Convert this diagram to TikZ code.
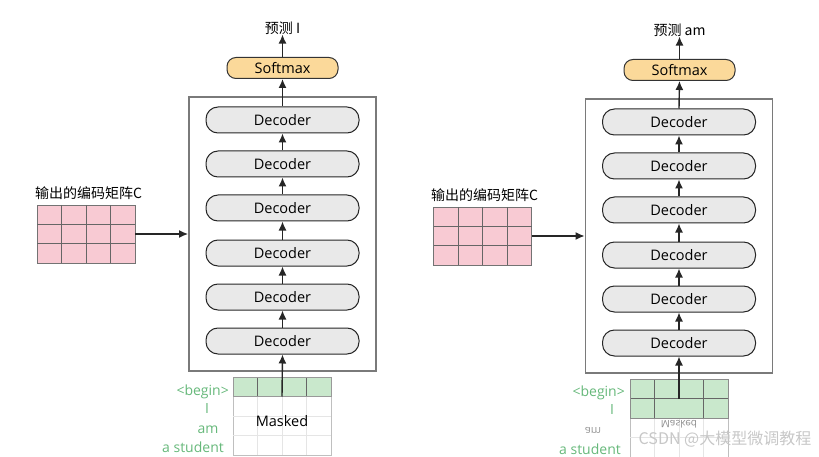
\documentclass[tikz,border=0pt]{standalone}
\usepackage{fontspec}
\setmainfont{Open Sans}
\newfontfamily\cjk{Noto Sans CJK SC}
\usetikzlibrary{arrows.meta}
\definecolor{decfill}{HTML}{E9E9E9}
\definecolor{softfill}{HTML}{FBD99A}
\definecolor{pinkc}{HTML}{F8CAD3}
\definecolor{greenc}{HTML}{C9E8CC}
\definecolor{greent}{HTML}{66B87A}
\definecolor{boxc}{HTML}{7A7A7A}
\begin{document}
\begin{tikzpicture}[x=1pt,y=-1pt,
  dec/.style={draw=black!85, line width=1pt, fill=decfill, rounded corners=12pt,
    minimum width=153pt, minimum height=26pt, inner sep=0pt, font=\fontsize{14.5}{15}\selectfont},
  soft/.style={draw=black!80, line width=1pt, fill=softfill, rounded corners=9pt,
    minimum width=111pt, minimum height=21pt, inner sep=0pt, font=\fontsize{14.5}{15}\selectfont},
  outer/.style={draw=boxc, line width=1.8pt, minimum width=187pt, minimum height=274pt, inner sep=0pt},
  matc/.style={draw=black!55, line width=0.8pt, fill=pinkc, minimum width=98pt, minimum height=58pt, inner sep=0pt},
  maskbox/.style={draw=black!25, line width=0.8pt, minimum width=98pt, minimum height=78pt, inner sep=0pt},
  arr/.style={-{Latex[length=9pt,width=8pt]}, line width=1.4pt, black!85},
  lab/.style={font=\cjk\fontsize{14}{15}\selectfont, inner sep=0pt},
  glab/.style={text=greent, font=\fontsize{14}{15}\selectfont, inner sep=0pt},
  gline/.style={black!60, line width=0.8pt},
  lline/.style={black!10, line width=0.6pt}]
\useasboundingbox (0,0) rectangle (819,457);

% ---------------- Left panel ----------------
\node[outer] (BL) at (282.5,234) {};
\node[soft] (SL) at (282.5,68) {Softmax};
\node[lab] (PL) at (282.5,28) {预测 I};
\foreach \k/\yy in {1/120,2/164,3/208,4/253,5/297,6/341}
  \node[dec] (DL\k) at (282.5,\yy) {Decoder};
\draw[arr] (SL.north) -- (PL.south);
\draw[arr] (DL1.north) -- (SL.south);
\foreach \a/\b in {2/1,3/2,4/3,5/4,6/5}
  \draw[arr] (DL\a.north) -- (DL\b.south);

% encoder matrix C
\node[lab, anchor=west] (CLt) at (35,193) {输出的编码矩阵C};
\node[matc] (CL) at (86,234) {};
\foreach \xx in {61.5,86,110.5} \draw[gline] (\xx,205) -- (\xx,263);
\foreach \yy in {224.3,243.7} \draw[gline] (37,\yy) -- (135,\yy);
\draw[arr] (CL.east) -- (BL.west |- CL.east);

% decoder input
\node[maskbox] (ML) at (282,416) {};
\fill[greenc] (233,377) rectangle (331,396.5);
\foreach \xx in {257.5,282,306.5} \draw[lline] (\xx,396.5) -- (\xx,455);
\foreach \yy in {416,435.5} \draw[lline] (233,\yy) -- (331,\yy);
\foreach \xx in {257.5,306.5} \draw[gline] (\xx,377) -- (\xx,396.5);
\draw[black!40, line width=0.7pt] (233,377) rectangle (331,396.5);
\node[font=\fontsize{14.5}{15}\selectfont, inner sep=1pt] (MTL) at (282,421) {Masked};
\coordinate (INL) at (282,396.5);
\draw[arr] (INL) -- (DL6.south);
\node[glab, anchor=east] (gl1) at (229,392) {<begin>};
\node[glab] (gl2) at (207,409) {I};
\node[glab] (gl3) at (208,430) {am};
\node[glab, anchor=east] (gl4) at (224,447) {a student};

% ---------------- Right panel ----------------
\node[outer] (BR) at (679,236) {};
\node[soft] (SR) at (679.5,70) {Softmax};
\node[lab] (PR) at (679.5,30) {预测 am};
\foreach \k/\yy in {1/122,2/166,3/210,4/255,5/299,6/343}
  \node[dec] (DR\k) at (679,\yy) {Decoder};
\draw[arr] (SR.north) -- (PR.south);
\draw[arr] (DR1.north) -- (SR.south);
\foreach \a/\b in {2/1,3/2,4/3,5/4,6/5}
  \draw[arr] (DR\a.north) -- (DR\b.south);

\node[lab, anchor=west] (CRt) at (431,195) {输出的编码矩阵C};
\node[matc] (CR) at (482.5,236) {};
\foreach \xx in {458,482.5,507} \draw[gline] (\xx,207) -- (\xx,265);
\foreach \yy in {226.3,245.7} \draw[gline] (433.5,\yy) -- (531.5,\yy);
\draw[arr] (CR.east) -- (BR.west |- CR.east);

\node[maskbox] (MR) at (679,418) {};
\fill[greenc] (630,379) rectangle (728,418);
\foreach \xx in {654.5,679,703.5} \draw[lline] (\xx,418) -- (\xx,457);
\draw[lline] (630,437.5) -- (728,437.5);
\foreach \xx in {654.5,703.5} \draw[gline] (\xx,379) -- (\xx,418);
\draw[gline] (630,398.5) -- (728,398.5);
\draw[black!45, line width=0.8pt] (630,379) rectangle (728,418);
\node[font=\fontsize{10}{11}\selectfont, text=black!45, yscale=-1, inner sep=0pt] (MTR) at (679,424) {Masked};
\coordinate (INR) at (679,398.5);
\draw[arr] (INR) -- (DR6.south);
\node[glab, anchor=east] (gr1) at (625,393) {<begin>};
\node[glab] (gr2) at (612,410) {I};
\node[font=\fontsize{11}{12}\selectfont, text=black!40, yscale=-1, inner sep=0pt] (gr3) at (593,430) {am};
\node[glab, anchor=east] (gr4) at (621,449) {a student};

% watermark
\node[font=\cjk\fontsize{16}{17}\selectfont, text=black!22, inner sep=0pt] (WM) at (725,439) {CSDN @大模型微调教程};
\end{tikzpicture}
\end{document}
